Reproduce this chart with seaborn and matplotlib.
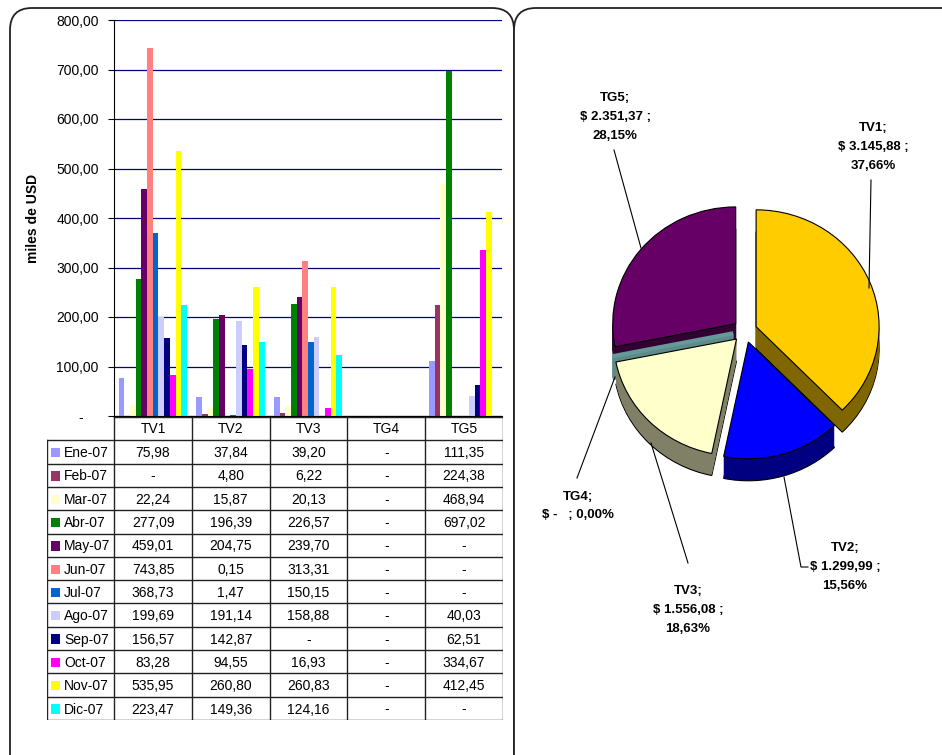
import numpy as np
import pandas as pd
import matplotlib.pyplot as plt
import seaborn as sns
from matplotlib.patches import FancyBboxPatch, Rectangle

# datos
meses = ['Ene-07', 'Feb-07', 'Mar-07', 'Abr-07', 'May-07', 'Jun-07',
         'Jul-07', 'Ago-07', 'Sep-07', 'Oct-07', 'Nov-07', 'Dic-07']
plantas = ['TV1', 'TV2', 'TV3', 'TG4', 'TG5']

tv1 = [75.98, None, 22.24, 277.09, 459.01, 743.85, 368.73, 199.69, 156.57, 83.28, 535.95, 223.47]
tv2 = [37.84, 4.80, 15.87, 196.39, 204.75, 0.15, 1.47, 191.14, 142.87, 94.55, 260.80, 149.36]
tv3 = [39.20, 6.22, 20.13, 226.57, 239.70, 313.31, 150.15, 158.88, None, 16.93, 260.83, 124.16]
tg4 = [None, None, None, None, None, None, None, None, None, None, None, None]
tg5 = [111.35, 224.38, 468.94, 697.02, None, None, None, 40.03, 62.51, 334.67, 412.45, None]

totales = [3145.88, 1299.99, 1556.08, 0.0, 2351.37]
porcentajes = [37.66, 15.56, 18.63, 0.00, 28.15]

colores_mes = ['#9999FF', '#993366', '#FFFFCC', '#008000', '#660066', '#FF8080',
               '#0066CC', '#CCCCFF', '#000080', '#FF00FF', '#FFFF00', '#00FFFF']
colores_pie = ['#FFCC00', '#0000FF', '#FFFFCC', '#669999', '#660066']
colores_lado = ['#806600', '#000080', '#808066', '#5F8A8A', '#330033']


def fmt(v):
    if v is None or v == 0:
        return '-'
    s = '{:,.2f}'.format(v)
    return s.replace(',', 'X').replace('.', ',').replace('X', '.')


valores = {'TV1': tv1, 'TV2': tv2, 'TV3': tv3, 'TG4': tg4, 'TG5': tg5}
filas = []
for p in plantas:
    for m, v in zip(meses, valores[p]):
        filas.append({'planta': p, 'mes': m, 'valor': np.nan if v is None else v})
df = pd.DataFrame(filas)

plt.rcParams['font.family'] = ['Liberation Sans', 'DejaVu Sans']

W, H = 942, 755
fig = plt.figure(figsize=(W / 100, H / 100), dpi=100)

# marcos
bg = fig.add_axes([0, 0, 1, 1])
bg.set_xlim(0, W)
bg.set_ylim(H, 0)
bg.axis('off')
bg.add_patch(FancyBboxPatch((10, 8), 504, 800, boxstyle='round,pad=0,rounding_size=22',
                            fc='white', ec='#222222', lw=1.3))
bg.add_patch(FancyBboxPatch((514, 8), 460, 800, boxstyle='round,pad=0,rounding_size=22',
                            fc='white', ec='#222222', lw=1.3))

# barras
ax = fig.add_axes([114 / W, (H - 416) / H, 388 / W, 396 / H])
sns.barplot(data=df, x='planta', y='valor', hue='mes', order=plantas, hue_order=meses,
            palette=colores_mes, saturation=1, width=0.88, linewidth=0, errorbar=None,
            legend=False, ax=ax)
ax.set_xlim(-0.5, 4.5)
ax.set_ylim(0, 800)
ax.set_yticks(range(0, 801, 100))
ax.set_yticklabels(['-    ' if t == 0 else '{:.2f}'.format(t).replace('.', ',') for t in range(0, 801, 100)],
                   fontsize=10)
ax.tick_params(axis='y', length=4, width=0.8, pad=7, colors='black')
ax.tick_params(axis='x', length=0, labelbottom=False)
ax.set_xlabel('')
ax.set_ylabel('miles de USD', fontsize=10, fontweight='bold')
ax.yaxis.set_label_coords(-0.19, 0.5)
ax.yaxis.grid(True, color='#000080', lw=0.9)
ax.set_axisbelow(True)
for s in ['top', 'right']:
    ax.spines[s].set_visible(False)
ax.spines['left'].set_color('black')
ax.spines['bottom'].set_color('black')

# tabla
lab_w = 67 / 77.6
tab = fig.add_axes([47 / W, (H - 720) / H, 456 / W, 303 / H])
tab.set_xlim(-0.5 - lab_w, 4.5)
tab.set_ylim(13, 0)
tab.axis('off')
lc = '#222222'
for k in range(6):
    tab.plot([k - 0.5, k - 0.5], [0, 13], color=lc, lw=1)
tab.plot([-0.5 - lab_w, -0.5 - lab_w], [1, 13], color=lc, lw=1)
tab.plot([-0.5, 4.5], [0, 0], color=lc, lw=1)
for r in range(1, 14):
    tab.plot([-0.5 - lab_w, 4.5], [r, r], color=lc, lw=1)
for j, p in enumerate(plantas):
    tab.text(j, 0.5, p, ha='center', va='center', fontsize=10)
    for i, v in enumerate(valores[p]):
        tab.text(j, i + 1.55, fmt(v), ha='center', va='center', fontsize=10)
for i, m in enumerate(meses):
    tab.add_patch(Rectangle((-0.5 - lab_w + 4 / 77.6, i + 1.33), 9 / 77.6, 0.4,
                            fc=colores_mes[i], ec='none'))
    tab.text(-0.5 - lab_w + 17 / 77.6, i + 1.55, m, ha='left', va='center', fontsize=10)

# torta 3D (ligeramente achatada en vertical)
k = 0.95
axp = fig.add_axes([515 / W, 0, 427 / W, 747 / H])


def py(y):
    return (H - y) / k


cx, cy, R = 745, py(331), 123
prof = 22
sep = [12] * 5
for d in range(prof, 0, -1):
    wl, _ = axp.pie(totales, colors=colores_lado, startangle=90, counterclock=False,
                    explode=sep, radius=R, center=(cx, cy - d / k),
                    wedgeprops=dict(linewidth=0.8 if d == prof else 0,
                                    edgecolor='black'))
    wl[3].set_edgecolor(colores_lado[3])
    wl[3].set_linewidth(3)
wt, _ = axp.pie(totales, colors=colores_pie, startangle=90, counterclock=False,
                explode=sep, radius=R, center=(cx, cy),
                wedgeprops=dict(linewidth=0.8, edgecolor='black'))
wt[3].set_edgecolor(colores_pie[3])
wt[3].set_linewidth(3)
axp.set_aspect('auto')
axp.set_xlim(515, 942)
axp.set_ylim(0, 747 / k)
axp.axis('off')

etiquetas = []
for p, t, pc in zip(plantas, totales, porcentajes):
    pct = '{:.2f}%'.format(pc).replace('.', ',')
    if t == 0:
        etiquetas.append('{};\n$ -   ; {}'.format(p, pct))
    else:
        etiquetas.append('{};\n$ {} ;\n{}'.format(p, fmt(t), pct))

pos_etiq = [(873, 147), (845, 567), (688, 610), (578, 506), (615, 117)]
guias = [[(871, 180), (869, 288)],
         [(808, 567), (801, 567), (784, 477)],
         [(688, 563), (651, 443)],
         [(577, 478), (615, 377)],
         [(614, 150), (641, 248)]]
for txt, (x, y), g in zip(etiquetas, pos_etiq, guias):
    axp.text(x, py(y), txt, ha='center', va='center', fontsize=9.5, fontweight='bold',
             linespacing=1.75)
    axp.plot([q[0] for q in g], [py(q[1]) for q in g], color='black', lw=0.8)

fig.savefig('out.png', dpi=100)
